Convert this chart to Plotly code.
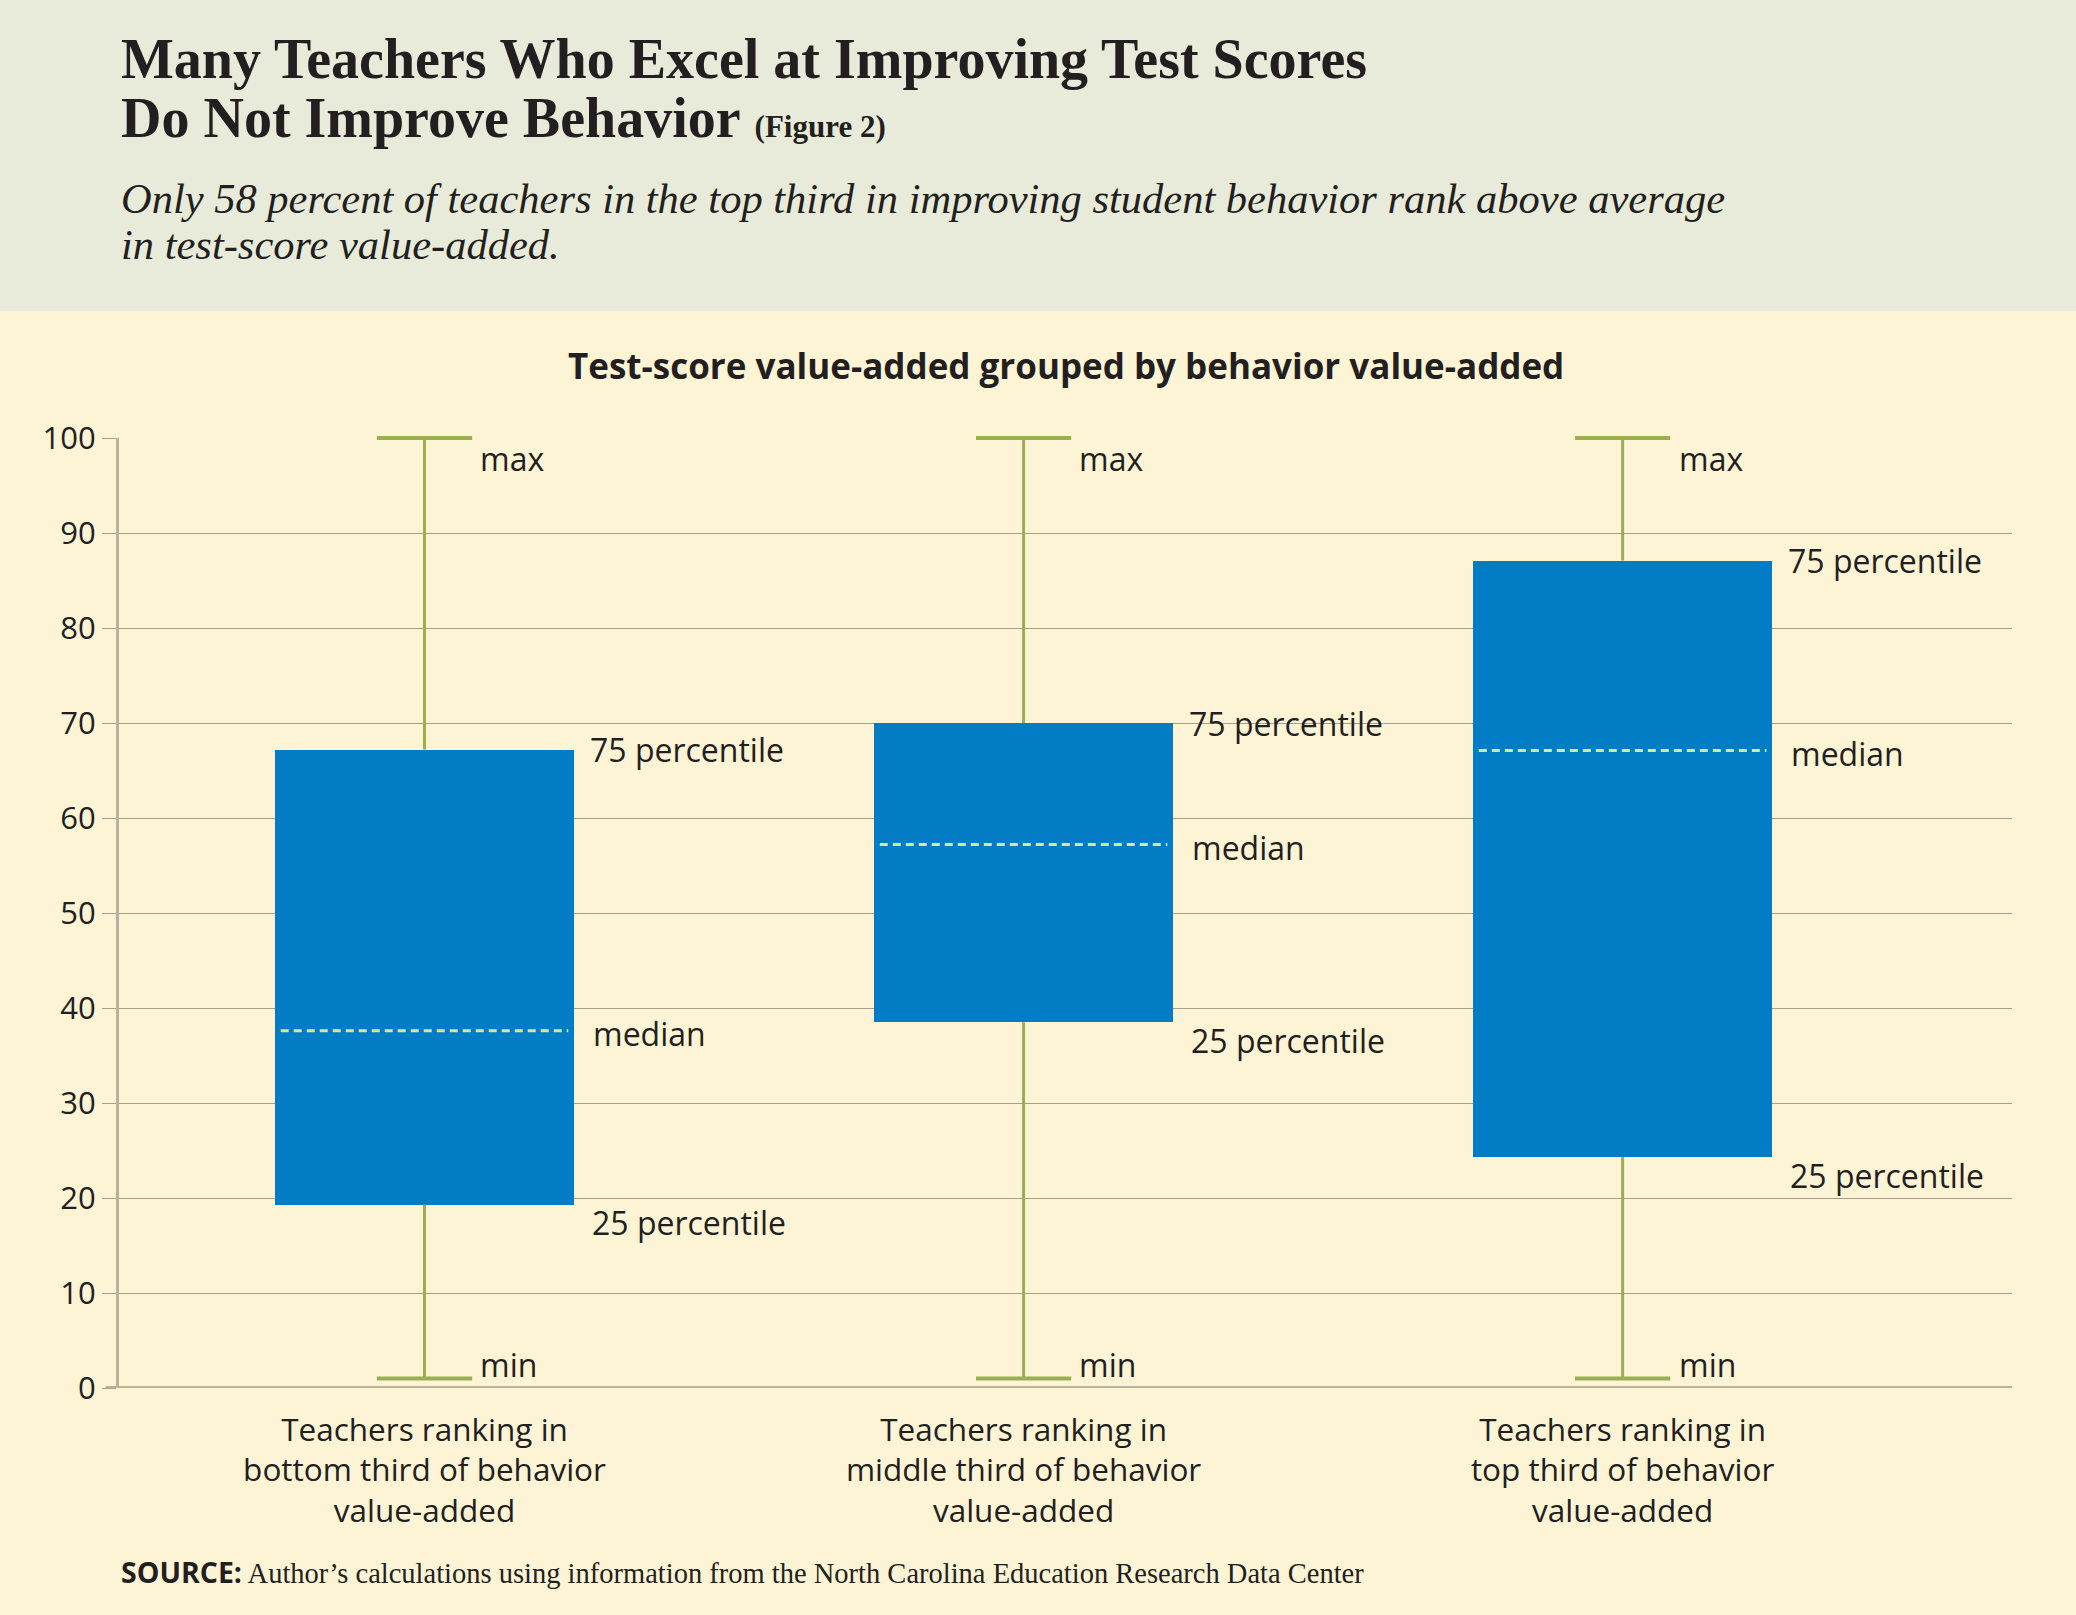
import plotly.graph_objects as go

# box-plot summary values (percentile ranks)
groups = ["Teachers ranking in<br>bottom third of behavior<br>value-added",
          "Teachers ranking in<br>middle third of behavior<br>value-added",
          "Teachers ranking in<br>top third of behavior<br>value-added"]
mins = [1, 1, 1]
q1s = [19.3, 38.5, 24.3]
medians = [37.6, 57.2, 67.1]
q3s = [67.2, 70.0, 87.1]
maxs = [100, 100, 100]
yticks = [0, 10, 20, 30, 40, 50, 60, 70, 80, 90, 100]

BLUE = "#037cc6"
GREEN = "#9aae52"
MED = "#d6e79e"
GRID = "#a59f8c"
AXIS = "#bab29d"
INK = "#231f20"
SANS = "Open Sans, Roboto, sans-serif"
SERIF = "Liberation Serif, DejaVu Serif, serif"

W, H = 2076, 1615
T, B = 438, 227
ph = H - T - B

xs = list(range(len(groups)))
bw = 0.5


def py(pix):
    # paper y for a pixel row
    return (H - B - pix) / ph


fig = go.Figure()

# whisker stems
wx, wy = [], []
for i in xs:
    wx += [i, i, None, i, i, None]
    wy += [mins[i], q1s[i], None, q3s[i], maxs[i], None]
fig.add_trace(go.Scatter(x=wx, y=wy, mode="lines", line=dict(color=GREEN, width=3),
                         hoverinfo="skip", showlegend=False))

# whisker caps
fig.add_trace(go.Scatter(x=xs + xs, y=mins + maxs, mode="markers",
                         marker=dict(symbol="line-ew", size=68, line=dict(color=GREEN, width=4)),
                         cliponaxis=False, hoverinfo="skip", showlegend=False))

# boxes
fig.add_trace(go.Bar(x=xs, y=[q3s[i] - q1s[i] for i in xs], base=q1s, width=bw,
                     marker=dict(color=BLUE, line=dict(width=0)), showlegend=False))

# median dashes
mx, my = [], []
for i in xs:
    mx += [i - bw / 2 + 0.01, i + bw / 2 - 0.01, None]
    my += [medians[i], medians[i], None]
fig.add_trace(go.Scatter(x=mx, y=my, mode="lines", line=dict(color=MED, width=3, dash="8px,5px"),
                         hoverinfo="skip", showlegend=False))

# labels next to each box
lab_font = dict(family=SANS, size=32, color=INK)
for i in xs:
    fig.add_annotation(x=i + 0.09, y=maxs[i], text="max", showarrow=False, xanchor="left",
                       yanchor="middle", yshift=-20, font=lab_font)
    fig.add_annotation(x=i + bw / 2, y=q3s[i], text="75 percentile", showarrow=False,
                       xanchor="left", yanchor="middle", xshift=14, yshift=0, font=lab_font)
    fig.add_annotation(x=i + bw / 2, y=medians[i], text="median", showarrow=False,
                       xanchor="left", yanchor="middle", xshift=17, yshift=-3, font=lab_font)
    fig.add_annotation(x=i + bw / 2, y=q1s[i], text="25 percentile", showarrow=False,
                       xanchor="left", yanchor="middle", xshift=16, yshift=-18, font=lab_font)
    fig.add_annotation(x=i + 0.09, y=mins[i], text="min", showarrow=False, xanchor="left",
                       yanchor="middle", yshift=14, font=lab_font)

# header band
fig.add_shape(type="rect", xref="paper", yref="paper", x0=-0.2, x1=1.2, y0=py(311), y1=py(-20),
              fillcolor="#e8ebd9", line=dict(width=0), layer="below")
# bottom axis line
fig.add_shape(type="line", xref="paper", yref="y", x0=-0.007, x1=1.0, y0=0, y1=0,
              line=dict(color=AXIS, width=4), layer="above")

# titles
fig.add_annotation(xref="paper", yref="paper", x=0.0, y=py(59), xanchor="left", yanchor="middle",
                   text="<b>Many Teachers Who Excel at Improving Test Scores</b>", showarrow=False,
                   font=dict(family=SERIF, size=56, color=INK))
fig.add_annotation(xref="paper", yref="paper", x=0.0, y=py(118), xanchor="left", yanchor="middle",
                   text="<b>Do Not Improve Behavior</b> <span style='font-size:31px'><b>(Figure 2)</b></span>",
                   showarrow=False, font=dict(family=SERIF, size=56, color=INK))
fig.add_annotation(xref="paper", yref="paper", x=0.0, y=py(198), xanchor="left", yanchor="middle",
                   text="<i>Only 58 percent of teachers in the top third in improving student behavior rank above average</i>",
                   showarrow=False, font=dict(family=SERIF, size=42.5, color=INK))
fig.add_annotation(xref="paper", yref="paper", x=0.0, y=py(245), xanchor="left", yanchor="middle",
                   text="<i>in test-score value-added.</i>",
                   showarrow=False, font=dict(family=SERIF, size=42.5, color=INK))
fig.add_annotation(xref="paper", yref="paper", x=0.5, y=py(366), xanchor="center", yanchor="middle",
                   text="<b>Test-score value-added grouped by behavior value-added</b>",
                   showarrow=False, font=dict(family=SANS, size=35, color=INK))
fig.add_annotation(xref="paper", yref="paper", x=0.0, y=py(1572), xanchor="left", yanchor="middle",
                   text="<b><span style='font-family:Open Sans'>SOURCE:</span></b> Author’s calculations using "
                        "information from the North Carolina Education Research Data Center",
                   showarrow=False, align="left", font=dict(family=SERIF, size=28.5, color=INK))

fig.update_layout(
    width=W, height=H,
    margin=dict(l=119, r=64, t=T, b=B),
    paper_bgcolor="#fdf4d5", plot_bgcolor="#fdf4d5",
    bargap=0,
    xaxis=dict(range=[-0.51, 2.65], tickvals=xs, ticktext=groups, showgrid=False,
               zeroline=False, showline=False, ticks="", ticklabelstandoff=20,
               tickfont=dict(family=SANS, size=31.5, color=INK)),
    yaxis=dict(range=[0, 100], tickvals=yticks, showgrid=True, gridcolor=GRID, gridwidth=1.3,
               zeroline=False, showline=True, linecolor=AXIS, linewidth=3,
               ticks="outside", ticklen=14, tickcolor=GRID, tickwidth=1.3,
               tickfont=dict(family=SANS, size=31, color=INK)),
)

fig.write_html("out.html", config={"displayModeBar": False},
               post_script="document.body.style.margin='0';")
